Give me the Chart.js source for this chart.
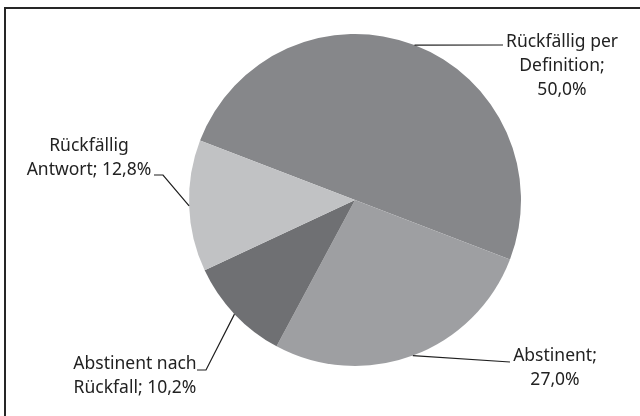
<!DOCTYPE html>
<html>
<head>
<meta charset="utf-8">
<script src="https://cdn.jsdelivr.net/npm/chart.js@4/dist/chart.umd.min.js"></script>
<style>
  html, body { margin: 0; padding: 0; background: #fff; }
  #wrap { position: relative; width: 640px; height: 416px; overflow: hidden; }
  #frame { position: absolute; left: 4px; top: 7px; width: 700px; height: 500px;
           border-top: 2px solid #262626; border-left: 2px solid #262626; }
  canvas { position: absolute; left: 0; top: 0; }
</style>
</head>
<body>
<div id="wrap">
  <div id="frame"></div>
  <canvas id="chart" width="640" height="416"></canvas>
</div>
<script>
// Anteile der Gruppen (Prozent)
const categories = ["Rückfällig per Definition", "Abstinent", "Abstinent nach Rückfall", "Rückfällig Antwort"];
const values = [50.0, 27.0, 10.2, 12.8];
const colors = ["#86878a", "#9e9fa2", "#6f7073", "#c1c2c4"];

// Zeilenumbrüche der Beschriftungen
const labelLines = [
  ["Rückfällig per", "Definition;", "{v}"],
  ["Abstinent;", "{v}"],
  ["Abstinent nach", "Rückfall; {v}"],
  ["Rückfällig", "Antwort; {v}"],
];

const fmtPct = (v) => v.toFixed(1).replace(".", ",") + "%";

// Position der Texte und Knickpunkte der Führungslinien
const labelPos = [
  { x: 562, y: 42, pts: [[503, 45]] },
  { x: 555, y: 356, pts: [[510, 362]] },
  { x: 135, y: 364, pts: [[206, 370], [197, 370]] },
  { x: 89, y: 146, pts: [[163, 175], [154, 175]] },
];

const leaderLabels = {
  id: "leaderLabels",
  afterDatasetsDraw(chart) {
    const ctx = chart.ctx;
    const meta = chart.getDatasetMeta(0);
    ctx.save();
    meta.data.forEach((arc, i) => {
      const { x, y, startAngle, endAngle, outerRadius } = arc.getProps(
        ["x", "y", "startAngle", "endAngle", "outerRadius"], true);
      const mid = (startAngle + endAngle) / 2;
      const p = labelPos[i];
      ctx.strokeStyle = "#1f1f1f";
      ctx.lineWidth = 1.2;
      ctx.beginPath();
      ctx.moveTo(x + Math.cos(mid) * outerRadius, y + Math.sin(mid) * outerRadius);
      p.pts.forEach(([px, py]) => ctx.lineTo(px, py));
      ctx.stroke();

      ctx.fillStyle = "#222";
      ctx.font = "17.5px 'Noto Sans'";
      ctx.textAlign = "center";
      ctx.textBaseline = "middle";
      labelLines[i].forEach((line, k) => {
        ctx.fillText(line.replace("{v}", fmtPct(values[i])), p.x, p.y + k * 24);
      });
    });
    ctx.restore();
  },
};

new Chart(document.getElementById("chart"), {
  type: "pie",
  data: {
    labels: categories,
    datasets: [{
      data: values,
      backgroundColor: colors,
      borderWidth: 0,
    }],
  },
  options: {
    responsive: false,
    animation: false,
    rotation: -69,
    layout: { padding: { left: 189, right: 119, top: 34, bottom: 50 } },
    plugins: {
      legend: { display: false },
      tooltip: { enabled: false },
    },
  },
  plugins: [leaderLabels],
});
</script>
</body>
</html>
